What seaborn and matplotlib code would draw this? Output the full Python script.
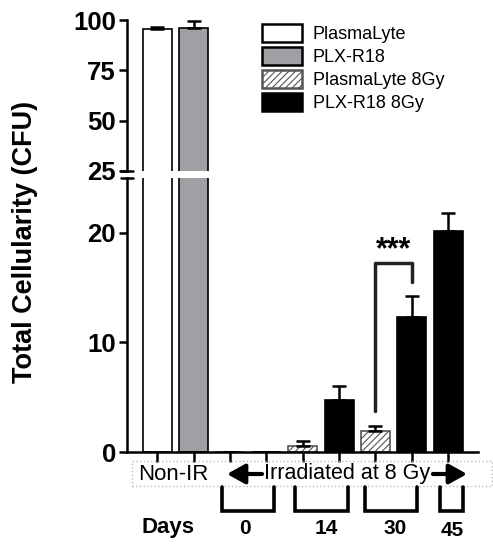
import pandas as pd
import matplotlib.pyplot as plt
import seaborn as sns
from matplotlib.patches import Patch, Rectangle, FancyArrowPatch
from matplotlib.lines import Line2D

# Data
slots = ["NonIR_PL", "NonIR_PLX", "D0_PL", "D0_PLX", "D14_PL", "D14_PLX",
         "D30_PL", "D30_PLX", "D45_PLX"]
groups = ["PlasmaLyte", "PLX-R18", "PlasmaLyte 8Gy", "PLX-R18 8Gy",
          "PlasmaLyte 8Gy", "PLX-R18 8Gy", "PlasmaLyte 8Gy", "PLX-R18 8Gy",
          "PLX-R18 8Gy"]
means = [95.5, 96.0, 0.0, 0.0, 0.55, 4.7, 1.9, 12.3, 20.2]
errors = [0.8, 3.6, 0.0, 0.0, 0.45, 1.3, 0.5, 1.9, 1.6]
group_order = ["PlasmaLyte", "PLX-R18", "PlasmaLyte 8Gy", "PLX-R18 8Gy"]
group_colors = {"PlasmaLyte": "white", "PLX-R18": "#a0a0a4",
                "PlasmaLyte 8Gy": "white", "PLX-R18 8Gy": "black"}
day_labels = ["0", "14", "30", "45"]

df = pd.DataFrame({"slot": slots, "group": groups, "value": means})

sns.set_style("ticks")
plt.rcParams["font.family"] = ["Liberation Sans", "DejaVu Sans"]
plt.rcParams["hatch.linewidth"] = 0.8
for key in ["text.color", "axes.labelcolor", "xtick.color", "ytick.color",
            "axes.edgecolor"]:
    plt.rcParams[key] = "black"

fig = plt.figure(figsize=(4.93, 5.5), dpi=100)
left, width = 127 / 493, 351 / 493
ax_top = fig.add_axes([left, 1 - 171 / 550, width, 151 / 550])
ax_bot = fig.add_axes([left, 1 - 452 / 550, width, 274 / 550])

for ax in (ax_top, ax_bot):
    sns.barplot(data=df, x="slot", y="value", hue="group", order=slots,
                hue_order=group_order, palette=group_colors, dodge=False,
                width=0.8, edgecolor="black", linewidth=1.2, legend=False,
                errorbar=None, ax=ax)
    for bar in ax.containers[2]:
        bar.set_hatch("/////")
        bar.set_edgecolor("#555555")
    ax.errorbar(range(len(slots)), means, yerr=[[0] * len(slots), errors],
                fmt="none", ecolor="black", elinewidth=1.8, capsize=5,
                capthick=1.8, zorder=1)
    ax.set_xlim(-0.83, 8.82)
    ax.set_xlabel("")
    ax.set_ylabel("")
    sns.despine(ax=ax)
    ax.spines["left"].set_linewidth(1.8)
    ax.tick_params(axis="y", length=6, width=1.8, labelsize=18.5, pad=2)

ax_top.set_ylim(25, 100)
ax_top.set_yticks([25, 50, 75, 100])
ax_top.set_yticklabels(["25", "50", "75", "100"], fontweight="bold")
ax_top.spines["bottom"].set_visible(False)
ax_top.tick_params(axis="x", bottom=False, labelbottom=False)

ax_bot.set_ylim(0, 25)
ax_bot.set_yticks([0, 10, 20])
ax_bot.set_yticklabels(["0", "10", "20"], fontweight="bold")
ax_bot.spines["bottom"].set_linewidth(1.8)
ax_bot.tick_params(axis="x", length=7, width=1.8, labelbottom=False)
# break marks
ax_bot.plot([-0.017, 0.017], [1, 1], transform=ax_bot.transAxes,
            color="black", lw=1.8, clip_on=False)
ax_top.plot([-0.017, 0.017], [0, 0], transform=ax_top.transAxes,
            color="black", lw=1.8, clip_on=False)

# significance bracket
ax_bot.plot([6, 6, 7, 7], [3.7, 17.2, 17.2, 15.5], color="#222222", lw=2.5,
            solid_joinstyle="round")
ax_bot.text(6.5, 17.0, "***", ha="center", va="bottom", fontsize=22,
            fontweight="bold")

fig.text(0.05, 0.56, "Total Cellularity (CFU)", rotation=90, ha="center",
         va="center", fontsize=19.5, fontweight="bold")

# legend
handles = [Patch(facecolor=group_colors[g],
                 edgecolor="#555555" if g == "PlasmaLyte 8Gy" else "black",
                 linewidth=1.8,
                 hatch="/////" if g == "PlasmaLyte 8Gy" else None)
           for g in group_order]
fig.legend(handles, group_order, loc="upper left",
           bbox_to_anchor=(262 / 493, 1 - 24 / 550), frameon=False,
           fontsize=13, handlelength=2.2, handleheight=1.15,
           handletextpad=0.6, labelspacing=0.22, borderpad=0,
           borderaxespad=0)

# annotation strip below the axis
fig.patches.append(Rectangle((132 / 493, 1 - 486 / 550), 360 / 493, 25 / 550,
                             transform=fig.transFigure, fill=False,
                             edgecolor="#bbbbbb", linestyle=":", lw=1))
text_y = 1 - 474 / 550
fig.text(173 / 493, text_y, "Non-IR", ha="center", va="center", fontsize=16)
fig.text(347 / 493, text_y, "Irradiated at 8 Gy", ha="center", va="center",
         fontsize=15.5)
arrow_kw = dict(arrowstyle="-|>,head_length=0.9,head_width=0.5",
                color="black", lw=3, shrinkA=0, shrinkB=0)
fig.add_artist(FancyArrowPatch(
    (262 / 493, text_y), (227 / 493, text_y), transform=fig.transFigure,
    mutation_scale=12, **arrow_kw))
fig.add_artist(FancyArrowPatch(
    (433 / 493, text_y), (467 / 493, text_y), transform=fig.transFigure,
    mutation_scale=12, **arrow_kw))

brackets = [(222, 274), (295, 348), (365, 417), (440, 463)]
label_x = [245, 326, 395, 452]
label_y = [528, 528, 528, 531]
for (x0, x1), lx, ly, lab in zip(brackets, label_x, label_y, day_labels):
    xs = [x0 / 493, x0 / 493, x1 / 493, x1 / 493]
    ys = [1 - 487 / 550, 1 - 511 / 550, 1 - 511 / 550, 1 - 487 / 550]
    fig.add_artist(Line2D(xs, ys, transform=fig.transFigure, color="black",
                          lw=2.6, solid_joinstyle="miter"))
    fig.text(lx / 493, 1 - ly / 550, lab, ha="center", va="center",
             fontsize=15, fontweight="bold")
fig.text(168 / 493, 1 - 527 / 550, "Days", ha="center", va="center",
         fontsize=16, fontweight="bold")

fig.savefig("out.png", dpi=100)
